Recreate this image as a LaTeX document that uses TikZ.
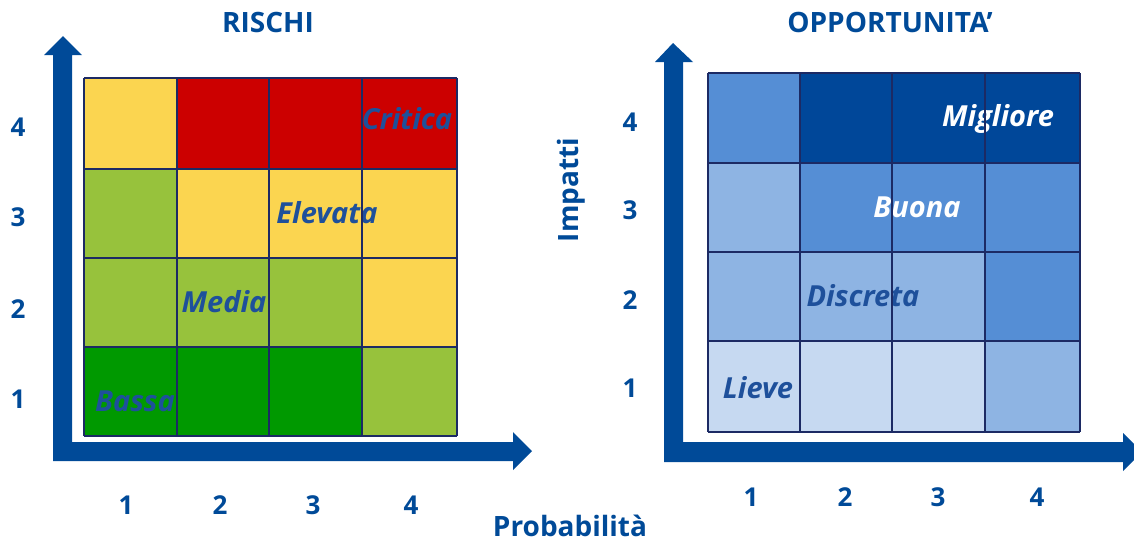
\documentclass[tikz,border=0pt]{standalone}
\usepackage{fontspec}
\setmainfont{Open Sans}
\begin{document}
\begin{tikzpicture}[x=1pt,y=-1pt,
  txt/.style={text=axisblue,font=\bfseries\fontsize{28}{30}\selectfont,inner sep=0pt},
  tick/.style={txt,font=\bfseries\fontsize{26}{28}\selectfont},
  celltxt/.style={inner sep=0pt,font=\bfseries\itshape\fontsize{29}{31}\selectfont},
  gridline/.style={draw=gridnavy,line width=2pt},
  arrowfill/.style={fill=axisblue}]
\definecolor{axisblue}{RGB}{0,74,152}
\definecolor{gridnavy}{RGB}{28,42,100}
\definecolor{labelblue}{RGB}{30,80,155}
\definecolor{ryellow}{RGB}{251,213,80}
\definecolor{rred}{RGB}{204,0,0}
\definecolor{rlgreen}{RGB}{151,194,60}
\definecolor{rgreen}{RGB}{0,153,0}
\definecolor{omid}{RGB}{85,142,213}
\definecolor{odark}{RGB}{0,71,153}
\definecolor{olight}{RGB}{142,180,227}
\definecolor{ovlight}{RGB}{198,217,241}
\useasboundingbox (0,0) rectangle (1134,544);
\clip (0,0) rectangle (1134,544);

% ---------- risk matrix (left) ----------
\def\rxs{{84,177,269,362,457}}
\def\rys{{78,169,258,347,436}}
% fill colours, top row first
\foreach \row/\cols in {0/{ryellow,rred,rred,rred},
                         1/{rlgreen,ryellow,ryellow,ryellow},
                         2/{rlgreen,rlgreen,rlgreen,ryellow},
                         3/{rgreen,rgreen,rgreen,rlgreen}}{
  \foreach \c [count=\i from 0] in \cols {
    \pgfmathsetmacro\xa{\rxs[\i]}\pgfmathsetmacro\xb{\rxs[\i+1]}
    \pgfmathsetmacro\ya{\rys[\row]}\pgfmathsetmacro\yb{\rys[\row+1]}
    \fill[\c] (\xa,\ya) rectangle (\xb,\yb);
  }
}
\node[celltxt,text=labelblue] (critica) at (407,119) {Critica};
\node[celltxt,text=labelblue] (elevata) at (327,213) {Elevata};
\node[celltxt,text=labelblue] (media)   at (224,302) {Media};
\node[celltxt,text=labelblue] (bassa)   at (135,401) {Bassa};
\foreach \x in {84,177,269,362,457} \draw[gridline] (\x,78) -- (\x,436);
\foreach \y in {78,169,258,347,436} \draw[gridline] (84,\y) -- (457,\y);

% axes of the risk matrix
\fill[arrowfill] (53,461) -- (53,55) -- (44,55) -- (63,36) -- (82,55) -- (72,55) -- (72,442)
  -- (513,442) -- (513,432) -- (532,451) -- (513,470) -- (513,461) -- cycle;

% ---------- opportunity matrix (right) ----------
\def\oxs{{708,800,892,985,1080}}
\def\oys{{73,163,252,341,432}}
\foreach \row/\cols in {0/{omid,odark,odark,odark},
                         1/{olight,omid,omid,omid},
                         2/{olight,olight,olight,omid},
                         3/{ovlight,ovlight,ovlight,olight}}{
  \foreach \c [count=\i from 0] in \cols {
    \pgfmathsetmacro\xa{\oxs[\i]}\pgfmathsetmacro\xb{\oxs[\i+1]}
    \pgfmathsetmacro\ya{\oys[\row]}\pgfmathsetmacro\yb{\oys[\row+1]}
    \fill[\c] (\xa,\ya) rectangle (\xb,\yb);
  }
}
\node[celltxt,text=white]     (migliore) at (998,119) {Migliore};
\node[celltxt,text=white]     (buona)    at (917,207) {Buona};
\node[celltxt,text=labelblue] (discreta) at (863,296) {Discreta};
\node[celltxt,text=labelblue] (lieve)    at (758,388) {Lieve};
\foreach \x in {708,800,892,985,1080} \draw[gridline] (\x,73) -- (\x,432);
\foreach \y in {73,163,252,341,432} \draw[gridline] (708,\y) -- (1080,\y);

% axes of the opportunity matrix
\fill[arrowfill] (664,462) -- (664,62) -- (655,62) -- (673,43) -- (693,62) -- (683,62) -- (683,442)
  -- (1123,442) -- (1123,433) -- (1142,452) -- (1123,471) -- (1123,462) -- cycle;

% ---------- titles and axis labels ----------
\node[txt] (rischi) at (268,22) {RISCHI};
\node[txt] (opport) at (890,22) {OPPORTUNITA'};
\node[txt] (prob)   at (570,526) {Probabilità};
\node[txt,rotate=90] (impatti) at (571,190) {Impatti};

\foreach \n/\y in {4/127,3/217,2/309,1/399}
  \node[tick] (rl\n) at (18,\y) {\n};
\foreach \n/\y in {4/122,3/210,2/300,1/388}
  \node[tick] (ol\n) at (630,\y) {\n};
\foreach \n/\x in {1/126,2/220,3/313,4/411}
  \node[tick] (rb\n) at (\x,505) {\n};
\foreach \n/\x in {1/751,2/845,3/938,4/1037}
  \node[tick] (ob\n) at (\x,497) {\n};
\end{tikzpicture}
\end{document}
